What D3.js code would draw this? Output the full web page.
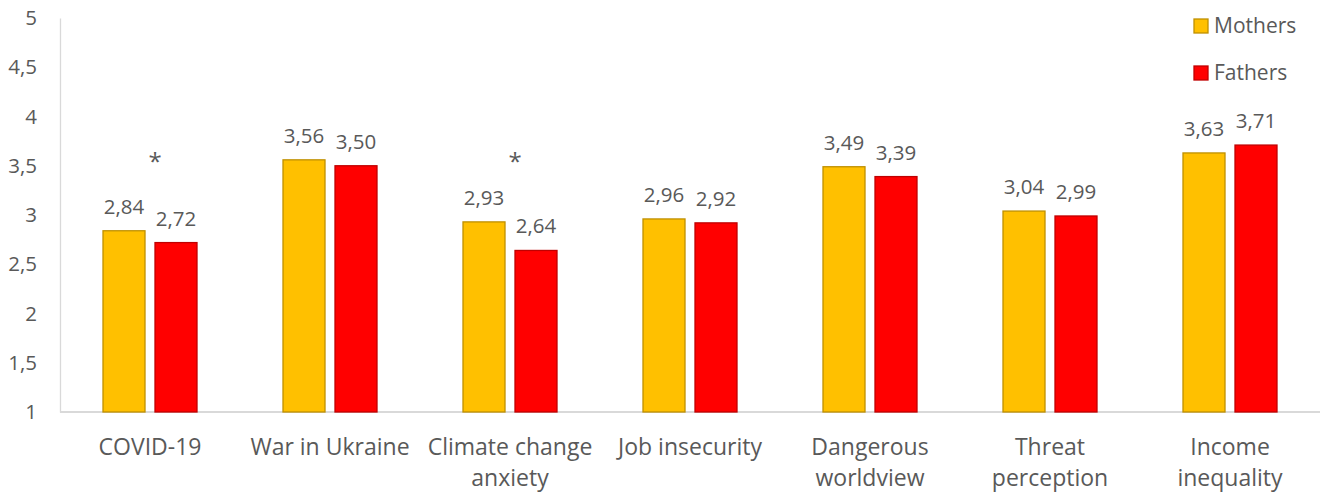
<!DOCTYPE html>
<html>
<head>
<meta charset="utf-8">
<script src="https://cdn.jsdelivr.net/npm/d3@7"></script>
<style>
  html, body { margin: 0; padding: 0; background: #fff; }
  svg { display: block; font-family: "Open Sans", sans-serif; }
</style>
</head>
<body>
<svg id="chart" width="1326" height="494"></svg>
<script>
// Mean scores per concern, by parent
const categories = [
  ["COVID-19"],
  ["War in Ukraine"],
  ["Climate change", "anxiety"],
  ["Job insecurity"],
  ["Dangerous", "worldview"],
  ["Threat", "perception"],
  ["Income", "inequality"]
];
const mothers = [2.84, 3.56, 2.93, 2.96, 3.49, 3.04, 3.63];
const fathers = [2.72, 3.50, 2.64, 2.92, 3.39, 2.99, 3.71];
const significant = [true, false, true, false, false, false, false];
const seriesNames = ["Mothers", "Fathers"];
const yTicks = [1, 1.5, 2, 2.5, 3, 3.5, 4, 4.5, 5];

const fills = ["#FFC000", "#FF0000"];
const strokes = ["#BF9000", "#C00000"];
const textColor = "#595959";

const svg = d3.select("#chart");
const plotLeft = 60, plotRight = 1320, plotTop = 18, plotBottom = 412;

const x = d3.scaleBand().domain(d3.range(categories.length)).range([plotLeft, plotRight]).padding(0);
const y = d3.scaleLinear().domain([1, 5]).range([plotBottom, plotTop]);
const fmt = v => d3.format(".2f")(v).replace(".", ",");
const tickFmt = v => String(v).replace(".", ",");

// Y axis
const yAxis = svg.append("g")
  .attr("transform", `translate(${plotLeft},0)`)
  .call(d3.axisLeft(y).tickValues(yTicks).tickSize(0).tickPadding(23).tickFormat(tickFmt));
yAxis.select(".domain").attr("stroke", "#d9d9d9").attr("stroke-width", 1.3);
yAxis.selectAll("text").attr("fill", textColor).attr("font-size", 20.5).attr("font-family", "'Open Sans', sans-serif");

// Baseline
svg.append("line")
  .attr("x1", plotLeft).attr("x2", plotRight)
  .attr("y1", y(1)).attr("y2", y(1))
  .attr("stroke", "#d9d9d9").attr("stroke-width", 2);

const barW = 42, gap = 10;
const data = categories.map((c, i) => ({ i, vals: [mothers[i], fathers[i]] }));

const groups = svg.append("g").selectAll("g").data(data).join("g")
  .attr("transform", d => `translate(${x(d.i) + x.bandwidth() / 2},0)`);

groups.selectAll("rect").data(d => d.vals.map((v, s) => ({ v, s }))).join("rect")
  .attr("x", d => d.s === 0 ? -gap / 2 - barW : gap / 2)
  .attr("y", d => y(d.v))
  .attr("width", barW)
  .attr("height", d => y(1) - y(d.v))
  .attr("fill", d => fills[d.s])
  .attr("stroke", d => strokes[d.s])
  .attr("stroke-width", 1.3);

groups.selectAll("text.val").data(d => d.vals.map((v, s) => ({ v, s }))).join("text")
  .attr("class", "val")
  .attr("x", d => d.s === 0 ? -gap / 2 - barW / 2 : gap / 2 + barW / 2)
  .attr("y", d => y(d.v) - 17)
  .attr("text-anchor", "middle")
  .attr("fill", textColor)
  .attr("font-size", 20.5)
  .text(d => fmt(d.v));

// Significance markers
groups.filter(d => significant[d.i]).append("text")
  .attr("x", 5)
  .attr("y", 170)
  .attr("text-anchor", "middle")
  .attr("fill", textColor)
  .attr("font-size", 24)
  .text("*");

// Category labels
const catLabels = svg.append("g").selectAll("text").data(categories).join("text")
  .attr("x", (d, i) => x(i) + x.bandwidth() / 2)
  .attr("y", 455)
  .attr("text-anchor", "middle")
  .attr("fill", textColor)
  .attr("font-size", 23);
catLabels.selectAll("tspan").data(d => d).join("tspan")
  .attr("x", function () { return this.parentNode.getAttribute("x"); })
  .attr("dy", (d, j) => j === 0 ? 0 : 31)
  .text(d => d);

// Legend
const legend = svg.append("g").selectAll("g").data(seriesNames).join("g")
  .attr("transform", (d, i) => `translate(1194,${19 + i * 47})`);
legend.append("rect")
  .attr("width", 14).attr("height", 14)
  .attr("fill", (d, i) => fills[i])
  .attr("stroke", (d, i) => strokes[i])
  .attr("stroke-width", 1.3);
legend.append("text")
  .attr("x", 20).attr("y", 14)
  .attr("fill", textColor)
  .attr("font-size", 21)
  .text(d => d);
</script>
</body>
</html>
